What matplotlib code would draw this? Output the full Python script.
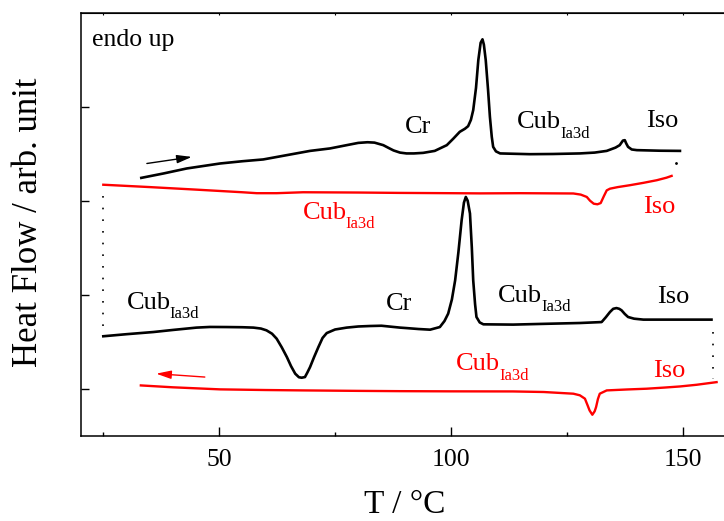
import matplotlib
matplotlib.use("Agg")
import matplotlib.pyplot as plt

plt.rcParams['font.family'] = ['Liberation Serif', 'DejaVu Serif']

# heating run, upper black curve
heat1_T = [33.2, 38.0, 43.0, 50.2, 55.0, 59.5, 64.6, 69.6, 73.9, 77.5, 80.0, 82.0, 83.5, 85.4,
           86.6, 87.6, 89.0, 90.4, 92.0, 94.0, 96.5, 99.1, 100.5, 101.9, 103.0, 103.7, 104.3,
           104.8, 105.4, 105.9, 106.4, 106.8, 107.1, 107.5, 108.0, 108.4, 108.8, 109.1, 109.7,
           110.6, 117.0, 122.0, 127.8, 131.0, 133.6, 135.5, 136.4, 137.1, 137.5, 137.8, 138.2,
           139.0, 140.1, 145.0, 149.4]
heat1_Q = [3.243, 3.290, 3.343, 3.396, 3.420, 3.439, 3.485, 3.530, 3.556, 3.591, 3.615, 3.622,
           3.618, 3.591, 3.560, 3.535, 3.512, 3.503, 3.503, 3.509, 3.530, 3.591, 3.660, 3.733,
           3.765, 3.793, 3.860, 3.964, 4.200, 4.496, 4.680, 4.717, 4.660, 4.496, 4.180, 3.893,
           3.680, 3.573, 3.525, 3.503, 3.495, 3.497, 3.503, 3.512, 3.530, 3.565, 3.591, 3.640,
           3.644, 3.610, 3.573, 3.545, 3.538, 3.532, 3.530]

# cooling run, upper red curve
cool1_T = [25.0, 35.0, 45.0, 55.0, 58.1, 62.4, 68.1, 80.0, 89.0, 100.0, 106.3, 115.0, 126.4,
           128.0, 129.3, 130.0, 130.8, 131.6, 132.3, 133.0, 133.6, 134.3, 136.0, 138.6, 141.5,
           144.4, 146.5, 147.6]
cool1_Q = [3.170, 3.145, 3.118, 3.090, 3.080, 3.080, 3.090, 3.087, 3.083, 3.080, 3.078, 3.080,
           3.077, 3.065, 3.040, 3.000, 2.968, 2.962, 2.975, 3.050, 3.110, 3.128, 3.145, 3.165,
           3.190, 3.218, 3.245, 3.264]

# second heating, middle black curve
heat2_T = [25.0, 30.0, 35.8, 40.0, 45.1, 48.0, 51.6, 55.0, 57.4, 59.0, 60.2, 61.4, 62.4, 63.5,
           64.6, 65.5, 66.4, 67.2, 67.8, 68.5, 69.0, 69.6, 70.5, 71.4, 72.3, 73.2, 75.0, 77.5,
           80.0, 82.5, 85.0, 87.0, 89.0, 90.4, 93.0, 95.5, 97.6, 98.6, 99.4, 100.2, 100.9,
           101.6, 102.3, 102.8, 103.2, 103.6, 104.1, 104.5, 104.8, 105.2, 105.5, 106.2, 107.0,
           113.4, 120.0, 127.8, 132.5, 133.4, 134.3, 135.0, 135.7, 136.3, 136.8, 137.5, 138.2,
           139.5, 141.5, 150.0, 156.2]
heat2_Q = [1.558, 1.580, 1.603, 1.625, 1.650, 1.657, 1.656, 1.654, 1.650, 1.640, 1.621, 1.585,
           1.532, 1.440, 1.337, 1.240, 1.160, 1.122, 1.117, 1.124, 1.170, 1.230, 1.340, 1.443,
           1.540, 1.592, 1.630, 1.650, 1.662, 1.667, 1.670, 1.660, 1.650, 1.645, 1.635, 1.628,
           1.656, 1.720, 1.799, 1.950, 2.153, 2.450, 2.792, 2.980, 3.040, 3.000, 2.864, 2.500,
           2.153, 1.900, 1.763, 1.705, 1.685, 1.682, 1.690, 1.699, 1.709, 1.760, 1.816, 1.850,
           1.858, 1.850, 1.834, 1.795, 1.763, 1.745, 1.735, 1.735, 1.735]

# second cooling, lower red curve
cool2_T = [33.1, 40.0, 50.2, 60.0, 68.1, 80.0, 89.0, 100.0, 113.4, 120.0, 126.4, 127.8, 128.9,
           129.5, 129.9, 130.5, 131.0, 131.3, 131.7, 132.1, 133.6, 138.0, 142.2, 146.0, 149.4,
           153.0, 157.3]
cool2_Q = [1.035, 1.015, 0.993, 0.986, 0.982, 0.977, 0.974, 0.972, 0.971, 0.965, 0.947, 0.930,
           0.894, 0.820, 0.769, 0.723, 0.760, 0.804, 0.890, 0.947, 0.982, 0.992, 1.000, 1.012,
           1.024, 1.042, 1.070]

# dotted connectors between runs
link_left_T, link_left_Q = [25.0, 25.0], [3.05, 1.62]
link_right_T, link_right_Q = [156.6, 156.6], [1.60, 1.10]
link_top_T, link_top_Q = [148.5], [3.396]

# phase labels: (text, subscript, T, Q, colour)
labels = [
    ('Cr', '', 90.1, 3.722, 'black'),
    ('Cub', 'Ia3d', 114.3, 3.769, 'black'),
    ('Iso', '', 142.1, 3.786, 'black'),
    ('Cub', 'Ia3d', 68.0, 2.810, 'red'),
    ('Iso', '', 141.5, 2.864, 'red'),
    ('Cub', 'Ia3d', 30.0, 1.852, 'black'),
    ('Cr', '', 86.0, 1.834, 'black'),
    ('Cub', 'Ia3d', 110.2, 1.922, 'black'),
    ('Iso', '', 144.4, 1.912, 'black'),
    ('Cub', 'Ia3d', 101.1, 1.195, 'red'),
    ('Iso', '', 143.6, 1.124, 'red'),
]

fig = plt.figure(figsize=(7.24, 5.21), dpi=100)
ax = fig.add_axes([0.1115, 0.1637, 0.8885, 0.8119])

ax.plot(heat1_T, heat1_Q, color='black', lw=1.9, solid_joinstyle='round')
ax.plot(cool1_T, cool1_Q, color='red', lw=1.7, solid_joinstyle='round')
ax.plot(heat2_T, heat2_Q, color='black', lw=1.9, solid_joinstyle='round')
ax.plot(cool2_T, cool2_Q, color='red', lw=1.7, solid_joinstyle='round')

ax.plot(link_left_T, link_left_Q, color='black', lw=1.2, linestyle=(0, (1, 6)))
ax.plot(link_right_T, link_right_Q, color='black', lw=1.2, linestyle=(0, (1, 6)))
ax.plot(link_top_T, link_top_Q, 'k.', ms=2)

# heating / cooling direction arrows
ax.annotate('', xy=(44.1, 3.466), xytext=(34.4, 3.396),
            arrowprops=dict(arrowstyle='-|>,head_length=0.9,head_width=0.25', color='black',
                            lw=1, mutation_scale=10, shrinkA=0, shrinkB=0))
ax.annotate('', xy=(36.4, 1.160), xytext=(46.9, 1.124),
            arrowprops=dict(arrowstyle='-|>,head_length=0.9,head_width=0.25', color='red',
                            lw=1, mutation_scale=10, shrinkA=0, shrinkB=0))

for txt, sub, T, Q, c in labels:
    t = ax.text(T, Q, txt, color=c, fontsize=19, ha='left', va='baseline')
    if sub:
        ax.annotate(sub, xy=(1, 0), xycoords=t, xytext=(-0.8, -3.0),
                    textcoords='offset points', color=c, fontsize=12,
                    ha='left', va='baseline')

ax.text(22.63, 4.645, 'endo up', fontsize=18.5, ha='left', va='baseline')

ax.set_xlim(20.13, 158.9)
ax.set_ylim(0.5, 5.0)
ax.set_xticks([50, 100, 150])
ax.set_xticks([25, 75, 125], minor=True)
ax.set_yticks([1, 2, 3, 4])
ax.set_yticklabels([])
ax.tick_params(axis='x', which='major', direction='in', length=6.5, width=1, labelsize=18.5, pad=9.5)
ax.tick_params(axis='x', which='minor', direction='in', length=3, width=1)
ax.tick_params(axis='y', which='major', direction='in', length=6, width=1)
ax.spines['right'].set_visible(False)
for s in ['left', 'bottom', 'top']:
    ax.spines[s].set_linewidth(1.1)

top = ax.secondary_xaxis('top')
top.set_xticks([25, 50, 75, 100, 125, 150])
top.tick_params(direction='in', length=1.5, width=0.8, labeltop=False)

fig.text(405 / 724, 8.0 / 521, 'T / °C', fontsize=24, ha='center', va='baseline')
fig.text(37 / 724, 1 - 222.3 / 521, 'Heat Flow / arb. unit', fontsize=25, rotation=90,
         rotation_mode='anchor', ha='center', va='baseline')

fig.savefig('out.png', dpi=100)
